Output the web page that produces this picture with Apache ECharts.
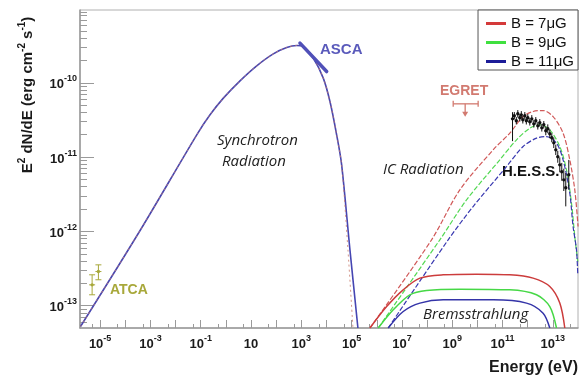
<!DOCTYPE html>
<html><head><meta charset="utf-8">
<script src="https://cdn.jsdelivr.net/npm/echarts@6/dist/echarts.min.js"></script>
<style>html,body{margin:0;padding:0;background:#fff}#c{width:581px;height:379px}</style>
</head><body><div id="c"></div>
<script>
// all values are log10(E / eV) and log10(E^2 dN/dE / erg cm^-2 s^-1)
const xLabelExps = [-5, -3, -1, 1, 3, 5, 7, 9, 11, 13];
const yLabelExps = [-13, -12, -11, -10];

const syncCurve = [[-5.78,-13.28],[-3.411,-11.988],[-1.158,-10.700],[-0.630,-10.431],[-0.101,-10.206],[0.562,-9.973],
  [1.226,-9.771],[1.885,-9.610],[2.418,-9.525],[2.815,-9.498],[3.077,-9.511],[3.474,-9.668],
  [3.872,-9.937],[4.138,-10.252],[4.404,-10.700],[4.603,-11.104],[4.933,-12.248],[5.25,-13.30]];
const syncCurveLowB = [[-5.78,-13.28],[-3.411,-11.988],[-1.158,-10.700],[-0.630,-10.431],[-0.101,-10.206],[0.562,-9.973],
  [1.226,-9.771],[1.885,-9.610],[2.418,-9.525],[2.815,-9.498],[3.077,-9.511],[3.474,-9.668],
  [3.872,-9.937],[4.138,-10.252],[4.404,-10.700],[4.603,-11.104],[4.853,-12.248],[5.052,-13.30]];

const icRed = [[5.727,-13.30],[8.178,-12.113],[9.303,-11.440],[10.626,-10.902],[11.289,-10.677],
  [11.818,-10.454],[12.215,-10.386],[12.612,-10.373],[13.010,-10.454],[13.407,-10.677],
  [13.673,-11.036],[13.872,-11.440],[14.003,-11.934]];
const icGreen = [[6.057,-13.30],[8.508,-12.113],[9.569,-11.575],[10.892,-11.036],[11.556,-10.767],
  [12.084,-10.610],[12.481,-10.565],[12.879,-10.633],[13.276,-10.857],[13.542,-11.171],
  [13.741,-11.619],[13.872,-12.069],[13.991,-12.409]];
const icBlue = [[6.454,-13.30],[8.838,-12.113],[9.831,-11.665],[11.158,-11.127],[11.818,-10.857],
  [12.350,-10.744],[12.747,-10.723],[13.145,-10.812],[13.407,-11.036],[13.673,-11.485],
  [13.804,-11.934],[13.940,-12.248],[13.991,-12.584]];

const bremRed = [[5.727,-13.30],[6.391,-13.011],[7.050,-12.786],[7.714,-12.629],[8.639,-12.584],
  [9.966,-12.575],[11.289,-12.584],[12.215,-12.629],[12.879,-12.742],[13.276,-12.965],[13.475,-13.30]];
const bremGreen = [[6.057,-13.30],[6.653,-13.055],[7.316,-12.853],[7.980,-12.795],[9.303,-12.777],
  [11.289,-12.786],[12.350,-12.853],[12.879,-13.011],[13.145,-13.30]];
const bremBlue = [[6.454,-13.30],[7.050,-13.078],[7.714,-12.965],[8.639,-12.921],[10.626,-12.921],
  [11.953,-12.965],[12.612,-13.100],[12.879,-13.30]];

const ascaSegment = [[2.946,-9.466],[4.007,-9.848]];

// [logE, logF, errDown, errUp]
const hessPoints = [[11.397,-10.485,0.30,0.09],[11.468,-10.444,0.05,0.05],[11.547,-10.511,0.05,0.05],
  [11.607,-10.417,0.05,0.05],[11.687,-10.471,0.05,0.05],[11.746,-10.431,0.05,0.05],[11.806,-10.498,0.05,0.05],
  [11.885,-10.444,0.05,0.05],[11.945,-10.511,0.05,0.05],[12.004,-10.471,0.05,0.05],[12.084,-10.525,0.05,0.05],
  [12.163,-10.485,0.05,0.05],[12.243,-10.552,0.05,0.05],[12.322,-10.511,0.05,0.05],[12.402,-10.579,0.05,0.05],
  [12.481,-10.538,0.05,0.05],[12.561,-10.606,0.05,0.05],[12.640,-10.565,0.05,0.05],[12.720,-10.646,0.06,0.06],
  [12.799,-10.619,0.06,0.06],[12.879,-10.686,0.06,0.06],[12.958,-10.740,0.06,0.06],[13.037,-10.808,0.07,0.07],
  [13.117,-10.902,0.07,0.07],[13.196,-10.996,0.08,0.08],[13.276,-11.104,0.10,0.10],[13.355,-11.198,0.12,0.12],
  [13.435,-11.306,0.15,0.15],[13.514,-11.413,0.25,0.2],[13.633,-11.238,0.2,0.2]];

// [logE, logF, errDown, errUp]
const atcaPoints = [[-5.318,-12.719,0.134,0.135],[-5.068,-12.540,0.111,0.090]];

// [logE, logF, logE low, logE high, logF arrow tip]
const egretLimit = [[9.514,-10.283,9.038,10.030,-10.458]];

const seriesNames = ['B = 7\u03bcG', 'B = 9\u03bcG', 'B = 11\u03bcG'];
const seriesColors = ['#d43a3a', '#3fe03f', '#1c1c98'];

function range(a, b) { const r = []; for (let i = a; i <= b; i++) r.push(i); return r; }
const xMajorTicks = range(-5, 13);
const xMinorTicks = range(-5, 14).map(n => n - 1 + Math.log10(5));
const yMajorTicks = range(-13, -10);
const yMinorTicks = [];
range(-14, -10).forEach(n => { for (let k = 2; k <= 9; k++) { const v = n + Math.log10(k); if (v > -13.3 && v < -9.02) yMinorTicks.push(v); } });

const labelRich = {
  b: { fontSize: 13, fontWeight: 'bold', fontFamily: 'Liberation Sans', color: '#1a1a1a', verticalAlign: 'bottom', lineHeight: 17 },
  s: { fontSize: 9, fontWeight: 'bold', fontFamily: 'Liberation Sans', color: '#1a1a1a', verticalAlign: 'top', lineHeight: 17 }
};
function expLabel(v) { const e = Math.round(v); return e === 1 ? '{b|10}' : '{b|10}{s|' + e + '}'; }

const MIN_X = -5.8, MAX_X = 14, MIN_Y = -13.3, MAX_Y = -9.02;
const axisGrey = '#9a9a9a';

function errRender(color, cap) {
  return function (params, api) {
    const x = api.value(0), y = api.value(1), dn = api.value(2), up = api.value(3);
    const p = api.coord([x, y]), pl = api.coord([x, y - dn]), ph = api.coord([x, y + up]);
    const ch = [
      { type: 'line', shape: { x1: pl[0], y1: pl[1], x2: ph[0], y2: ph[1] }, style: { stroke: color, lineWidth: 1 } },
      { type: 'circle', shape: { cx: p[0], cy: p[1], r: 1.7 }, style: { fill: color } }
    ];
    if (cap) {
      ch.push({ type: 'line', shape: { x1: pl[0] - cap, y1: pl[1], x2: pl[0] + cap, y2: pl[1] }, style: { stroke: color, lineWidth: 1 } });
      ch.push({ type: 'line', shape: { x1: ph[0] - cap, y1: ph[1], x2: ph[0] + cap, y2: ph[1] }, style: { stroke: color, lineWidth: 1 } });
      ch.push({ type: 'line', shape: { x1: p[0] - cap, y1: p[1], x2: p[0] + cap, y2: p[1] }, style: { stroke: color, lineWidth: 1 } });
    }
    return { type: 'group', children: ch };
  };
}

function lineSeries(name, data, color, dashed, width, z) {
  return { type: 'line', name: name, data: data, showSymbol: false, symbol: 'none', smooth: 0.3, z: z || 3,
    lineStyle: { color: color, width: width || 1.3, type: dashed ? [5, 2] : 'solid' }, itemStyle: { color: color },
    clip: true, silent: true };
}

const chart = echarts.init(document.getElementById('c'), null, { renderer: 'canvas' });
chart.setOption({
  animation: false,
  backgroundColor: '#fff',
  grid: { left: 80, right: 3, top: 10, bottom: 51, show: true, borderColor: '#b0b0b0', borderWidth: 1 },
  legend: {
    orient: 'vertical', right: 3, top: 10, backgroundColor: '#fff', borderColor: '#555', borderWidth: 1,
    padding: [6, 4, 1, 8], itemGap: 4, itemWidth: 20, itemHeight: 3,
    textStyle: { fontFamily: 'Liberation Sans', fontSize: 15, color: '#111' },
    data: seriesNames.map((n, i) => ({ name: n, icon: 'rect', itemStyle: { color: seriesColors[i] } }))
  },
  xAxis: [
    { type: 'value', min: MIN_X, max: MAX_X, splitLine: { show: false },
      axisLine: { onZero: false, lineStyle: { color: axisGrey, width: 1.5 } },
      axisTick: { inside: true, length: 8, customValues: xMajorTicks, lineStyle: { color: axisGrey } },
      axisLabel: { customValues: xLabelExps, margin: 6, formatter: expLabel, rich: labelRich } },
    { type: 'value', min: MIN_X, max: MAX_X, position: 'bottom', splitLine: { show: false },
      axisLine: { show: false, onZero: false }, axisLabel: { show: false },
      axisTick: { inside: true, length: 4, customValues: xMinorTicks, lineStyle: { color: axisGrey } } }
  ],
  yAxis: [
    { type: 'value', min: MIN_Y, max: MAX_Y, splitLine: { show: false },
      axisLine: { onZero: false, lineStyle: { color: axisGrey, width: 1.5 } },
      axisTick: { inside: true, length: 14, customValues: yMajorTicks, lineStyle: { color: axisGrey } },
      axisLabel: { customValues: yLabelExps, margin: 3, formatter: expLabel, rich: labelRich } },
    { type: 'value', min: MIN_Y, max: MAX_Y, position: 'left', splitLine: { show: false },
      axisLine: { show: false, onZero: false }, axisLabel: { show: false },
      axisTick: { inside: true, length: 7, customValues: yMinorTicks, lineStyle: { color: axisGrey } } }
  ],
  series: [
    lineSeries(seriesNames[2], syncCurve, '#4646b2', false, 1.6, 3),
    { ...lineSeries(seriesNames[0], syncCurveLowB, '#c86060', false, 1, 4), lineStyle: { color: '#c87a6a', width: 1, type: [2, 3], opacity: 0.8 } },
    lineSeries(seriesNames[0], icRed, '#d05858', true, 1.2),
    lineSeries(seriesNames[1], icGreen, '#52d852', true, 1.2),
    lineSeries(seriesNames[2], icBlue, '#3838b0', true, 1.2),
    lineSeries(seriesNames[0], bremRed, '#cc3c3c', false, 1.5),
    lineSeries(seriesNames[1], bremGreen, '#46d846', false, 1.5),
    lineSeries(seriesNames[2], bremBlue, '#3434a8', false, 1.5),
    { type: 'line', data: ascaSegment, showSymbol: false, symbol: 'none', silent: true, z: 6,
      lineStyle: { color: '#5050b8', width: 3.5, cap: 'round' } },
    { type: 'custom', data: hessPoints, renderItem: errRender('#111', 0), z: 7, silent: true },
    { type: 'custom', data: atcaPoints, renderItem: errRender('#a8a83a', 3), z: 7, silent: true },
    { type: 'custom', data: egretLimit, z: 7, silent: true,
      renderItem: function (params, api) {
        const p = api.coord([api.value(0), api.value(1)]);
        const pl = api.coord([api.value(2), api.value(1)]);
        const ph = api.coord([api.value(3), api.value(1)]);
        const tip = api.coord([api.value(0), api.value(4)]);
        const c = '#d27a70';
        return { type: 'group', children: [
          { type: 'line', shape: { x1: pl[0], y1: p[1], x2: ph[0], y2: p[1] }, style: { stroke: c, lineWidth: 1.3 } },
          { type: 'line', shape: { x1: pl[0], y1: p[1] - 3, x2: pl[0], y2: p[1] + 3 }, style: { stroke: c, lineWidth: 1.3 } },
          { type: 'line', shape: { x1: ph[0], y1: p[1] - 3, x2: ph[0], y2: p[1] + 3 }, style: { stroke: c, lineWidth: 1.3 } },
          { type: 'line', shape: { x1: p[0], y1: p[1], x2: tip[0], y2: tip[1] - 4 }, style: { stroke: c, lineWidth: 1.3 } },
          { type: 'polygon', shape: { points: [[tip[0] - 3, tip[1] - 5], [tip[0] + 3, tip[1] - 5], [tip[0], tip[1]]] }, style: { fill: c } }
        ] };
      } }
  ],
  graphic: [
    { type: 'text', x: 26, y: 95, rotation: Math.PI / 2, style: {
      text: '{t|E}{u|2}{t| dN/dE (erg cm}{u|-2}{t| s}{u|-1}{t|)}', align: 'center', verticalAlign: 'middle',
      rich: { t: { fontSize: 15, fontWeight: 'bold', fontFamily: 'Liberation Sans', fill: '#1a1a1a', verticalAlign: 'bottom', lineHeight: 18 },
              u: { fontSize: 10, fontWeight: 'bold', fontFamily: 'Liberation Sans', fill: '#1a1a1a', verticalAlign: 'top', lineHeight: 18 } } } },
    { type: 'text', x: 578, y: 368, style: { text: 'Energy (eV)', align: 'right', verticalAlign: 'middle',
      font: 'bold 16px "Liberation Sans"', fill: '#1a1a1a' } },
    { type: 'text', x: 320, y: 50, style: { text: 'ASCA', verticalAlign: 'middle', font: 'bold 15px "Liberation Sans"', fill: '#5a5abb' } },
    { type: 'text', x: 440, y: 91, style: { text: 'EGRET', verticalAlign: 'middle', font: 'bold 14px "Liberation Sans"', fill: '#d27a70' } },
    { type: 'text', x: 502, y: 172, style: { text: 'H.E.S.S.', verticalAlign: 'middle', font: 'bold 15px "Liberation Sans"', fill: '#111' } },
    { type: 'text', x: 110, y: 290, style: { text: 'ATCA', verticalAlign: 'middle', font: 'bold 14px "Liberation Sans"', fill: '#a8a83a' } },
    { type: 'text', x: 217, y: 141, style: { text: 'Synchrotron', verticalAlign: 'middle', font: 'italic 15px "Open Sans"', fill: '#222' } },
    { type: 'text', x: 222, y: 162, style: { text: 'Radiation', verticalAlign: 'middle', font: 'italic 15px "Open Sans"', fill: '#222' } },
    { type: 'text', x: 383, y: 170, style: { text: 'IC Radiation', verticalAlign: 'middle', font: 'italic 15px "Open Sans"', fill: '#222' } },
    { type: 'text', x: 423, y: 315, style: { text: 'Bremsstrahlung', verticalAlign: 'middle', font: 'italic 15px "Open Sans"', fill: '#222' } }
  ]
});
</script></body></html>
